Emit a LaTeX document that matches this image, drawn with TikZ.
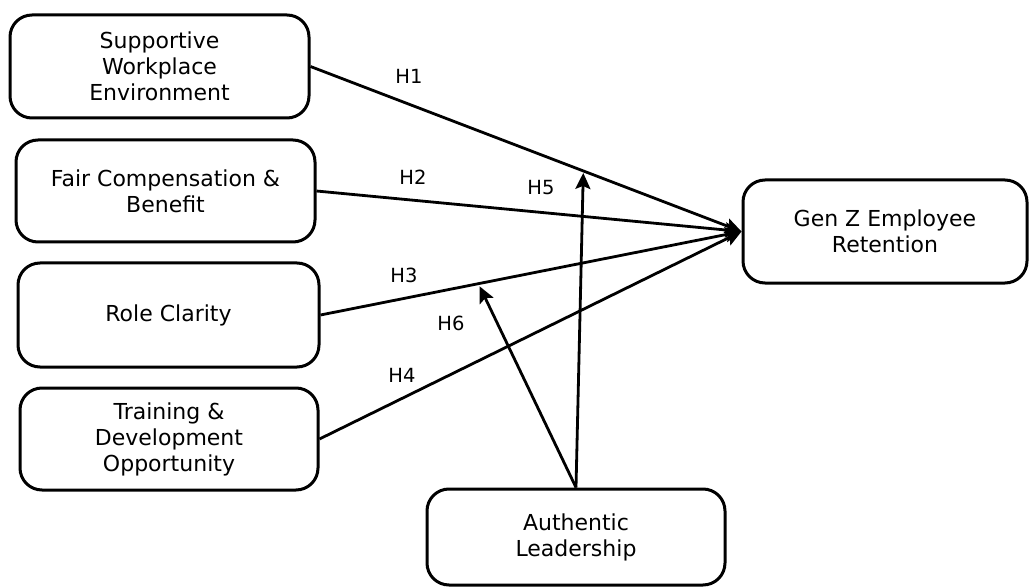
\documentclass[tikz,border=0pt]{standalone}
\usepackage{fontspec}
\setmainfont{DejaVu Sans}
\usepackage{tikz}
\usetikzlibrary{calc,arrows.meta,positioning}

\begin{document}
\begin{tikzpicture}[x=1pt, y=-1pt, line width=2.8pt,
    factor/.style={draw, rounded corners=22pt, line width=3pt, align=center, inner sep=0pt,
        font=\fontsize{22}{26}\selectfont},
    pathto/.style={-{Stealth[length=16pt,width=15pt,inset=3pt]}},
    hlabel/.style={font=\fontsize{19.5}{22}\selectfont}]
    \useasboundingbox (0,0) rectangle (1031,588);
    % independent variables
    \node[factor, minimum width=299pt, minimum height=103pt] (SWE) at (159.5,66.5) {Supportive\\Workplace\\Environment};
    \node[factor, minimum width=299pt, minimum height=102pt] (FCB) at (165.5,191) {Fair Compensation \&\\Benefit};
    \node[factor, minimum width=301pt, minimum height=104pt] (RC) at (168.5,315) {Role Clarity};
    \node[factor, minimum width=298pt, minimum height=102pt] (TDO) at (169,439) {Training \&\\Development\\Opportunity};
    % dependent variable and moderator
    \node[factor, minimum width=284pt, minimum height=103pt] (GZR) at (885,231.5) {Gen Z Employee\\Retention};
    \node[factor, minimum width=298pt, minimum height=96pt] (AL) at (576,537) {Authentic\\Leadership};
    % direct paths
    \draw[pathto] (SWE.east) -- (GZR.west);
    \draw[pathto] (FCB.east) -- (GZR.west);
    \draw[pathto] (RC.east) -- (GZR.west);
    \draw[pathto] (TDO.east) -- (GZR.west);
    % moderation paths
    \coordinate (M5) at ($(SWE.east)!0.633!(GZR.west)$);
    \coordinate (M6) at ($(RC.east)!0.375!(GZR.west)$);
    \draw[pathto, shorten >=2pt] (AL.north) -- (M5);
    \draw[pathto, shorten >=3pt] (AL.north) -- (M6);
    % labels
    \node[hlabel] (H1) at (409,76) {H1};
    \node[hlabel] (H2) at (413,177) {H2};
    \node[hlabel] (H5) at (541,188) {H5};
    \node[hlabel] (H3) at (404,275) {H3};
    \node[hlabel] (H6) at (451,323) {H6};
    \node[hlabel] (H4) at (402,375) {H4};
\end{tikzpicture}
\end{document}
